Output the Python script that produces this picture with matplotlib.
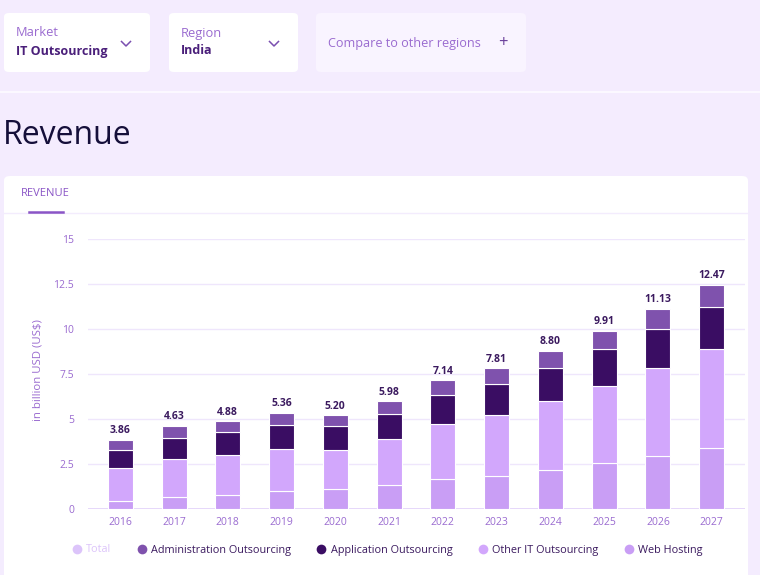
import matplotlib
matplotlib.use("Agg")
import matplotlib.pyplot as plt
from matplotlib.patches import FancyBboxPatch
from matplotlib.lines import Line2D
import numpy as np

# data (billion USD)
years = ["2016", "2017", "2018", "2019", "2020", "2021", "2022", "2023", "2024", "2025", "2026", "2027"]
web_hosting = [0.46, 0.65, 0.78, 1.00, 1.09, 1.31, 1.65, 1.85, 2.18, 2.54, 2.96, 3.37]
other_it = [1.80, 2.11, 2.22, 2.32, 2.19, 2.58, 3.05, 3.37, 3.80, 4.31, 4.86, 5.54]
application = [1.02, 1.20, 1.26, 1.37, 1.31, 1.37, 1.61, 1.71, 1.85, 2.02, 2.20, 2.33]
administration = [0.58, 0.67, 0.62, 0.67, 0.61, 0.72, 0.83, 0.88, 0.97, 1.04, 1.11, 1.23]
totals = [3.86, 4.63, 4.88, 5.36, 5.20, 5.98, 7.14, 7.81, 8.80, 9.91, 11.13, 12.47]
y_ticks = [0, 2.5, 5, 7.5, 10, 12.5, 15]
y_tick_labels = ["0", "2.5", "5", "7.5", "10", "12.5", "15"]
legend_names = ["Total", "Administration Outsourcing", "Application Outsourcing",
                "Other IT Outsourcing", "Web Hosting"]

c_admin = "#7f52ad"
c_app = "#3a0d63"
c_other = "#d2a7fc"
c_web = "#c99ef5"
c_total = "#dcc4fa"
c_label = "#9a6bd0"
c_dark = "#3b1a5f"

plt.rcParams['font.family'] = ['Open Sans', 'DejaVu Sans']

W, H = 760, 575
fig = plt.figure(figsize=(7.6, 5.75), dpi=100)
fig.patch.set_facecolor("#f4ecfe")


def px(x, y):
    return x / W, 1 - y / H


def card(x0, y0, x1, y1, color, r=5):
    a, b = px(x0, y1)
    p = FancyBboxPatch((a, b), (x1 - x0) / W, (y1 - y0) / H,
                       boxstyle="round,pad=0,rounding_size=%f" % (r / W),
                       transform=fig.transFigure, facecolor=color,
                       edgecolor="none", zorder=-5)
    fig.add_artist(p)


def chevron(cx, cy):
    xs = [cx - 4.5, cx, cx + 4.5]
    ys = [cy - 2.5, cy + 2, cy - 2.5]
    pts = [px(x, y) for x, y in zip(xs, ys)]
    fig.add_artist(Line2D([p[0] for p in pts], [p[1] for p in pts],
                          color="#7a4fb0", lw=1.1, transform=fig.transFigure))


# top selectors
card(4, 13, 150, 72, "white")
card(169, 13, 298, 72, "white")
card(316, 13, 526, 72, "#f9f4ff")
fig.text(*px(16, 33), "Market", color=c_label, fontsize=9.3, va="center")
fig.text(*px(16, 51), "IT Outsourcing", color="#4a1f7a", fontsize=9.0,
         fontweight="bold", va="center")
chevron(126, 44)
fig.text(*px(181, 33), "Region", color=c_label, fontsize=9.3, va="center")
fig.text(*px(181, 51), "India", color="#4a1f7a", fontsize=9.0,
         fontweight="bold", va="center")
chevron(274, 44)
fig.text(*px(328, 44), "Compare to other regions", color=c_label,
         fontsize=9.1, va="center")
fig.text(*px(503, 43), "+", color="#6a3f9a", fontsize=12, va="center", ha="center")

fig.add_artist(Line2D([0, 1], [px(0, 92)[1]] * 2, color="#fbf8ff", lw=1.5,
                      transform=fig.transFigure, zorder=-4))

fig.text(*px(3, 135), "Revenue", color="#150f3a", fontsize=23, va="center")

# chart card
card(4, 176, 748, 590, "white", r=6)
fig.text(*px(21, 193), "REVENUE", color="#8a55c6", fontsize=8, va="center")
fig.add_artist(Line2D([px(4, 0)[0], px(748, 0)[0]], [px(0, 213)[1]] * 2,
                      color="#f3ecfd", lw=1, transform=fig.transFigure, zorder=-4))
fig.add_artist(Line2D([px(29, 0)[0], px(63, 0)[0]], [px(0, 212)[1]] * 2,
                      color="#8a55c6", lw=1.8, transform=fig.transFigure))

# axes
l, b = px(88, 509)
ax = fig.add_axes([l, b, (745 - 88) / W, (509 - 239) / H])
ax.set_facecolor("none")
x = np.arange(len(years))
bw = 0.465
kw = dict(width=bw, edgecolor="white", linewidth=0.8, zorder=3)
bottom = np.zeros(len(years))
for vals, col in [(web_hosting, c_web), (other_it, c_other),
                  (application, c_app), (administration, c_admin)]:
    ax.bar(x, vals, bottom=bottom, color=col, **kw)
    bottom = bottom + np.array(vals)

for xi, t in zip(x, totals):
    ax.annotate("%.2f" % t, (xi, t), xytext=(0, 2.5), textcoords="offset points",
                ha="center", va="bottom", fontsize=7.5, fontweight="bold",
                color=c_dark)

ax.set_xlim(-0.6, 11.62)
ax.set_ylim(0, 15)
ax.set_yticks(y_ticks)
ax.set_yticklabels(y_tick_labels)
ax.set_xticks(x)
ax.set_xticklabels(years)
ax.tick_params(length=0, labelsize=7.5, labelcolor=c_label)
ax.tick_params(axis="y", pad=10)
ax.tick_params(axis="x", pad=6)
for s in ax.spines.values():
    s.set_visible(False)
ax.grid(axis="y", color="#efe6fc", lw=1, zorder=0)
ax.axhline(0, color="#e2d2fa", lw=1.2, zorder=1)
ax.set_axisbelow(True)

fig.text(*px(38, 370), "in billion USD (US$)", rotation=90, color=c_label,
         fontsize=8.2, va="center", ha="center")

# legend
leg_colors = [c_total, c_admin, c_app, c_other, c_web]
handles = [Line2D([], [], marker="o", ls="none", markersize=7,
                  markerfacecolor=c, markeredgecolor="none") for c in leg_colors]
leg = fig.legend(handles, legend_names, loc="center", ncol=5,
                 bbox_to_anchor=px(387, 550), frameon=False, fontsize=7.8,
                 handletextpad=0.35, columnspacing=2.3, handlelength=1.0)
for i, t in enumerate(leg.get_texts()):
    t.set_color(c_total if i == 0 else c_dark)

fig.savefig("out.png", dpi=100, facecolor=fig.get_facecolor())
